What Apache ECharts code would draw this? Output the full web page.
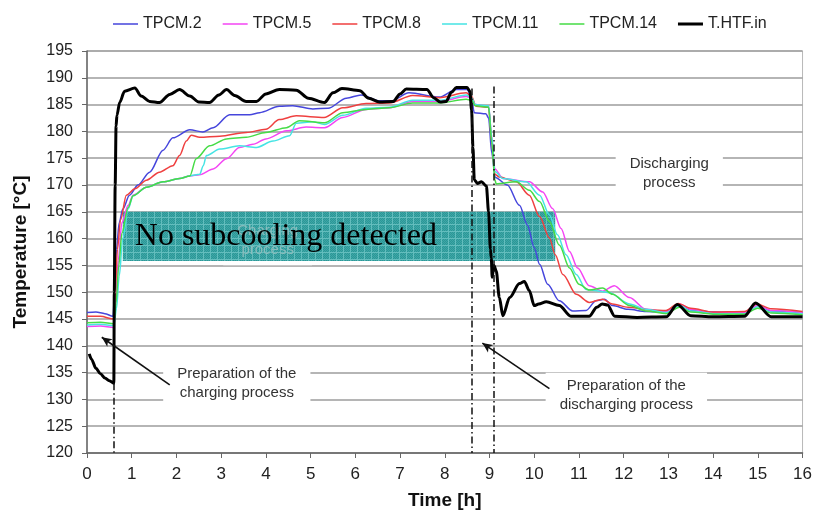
<!DOCTYPE html>
<html>
<head>
<meta charset="utf-8">
<script src="https://cdn.jsdelivr.net/npm/echarts@6/dist/echarts.min.js"></script>
<style>
  html, body { margin: 0; padding: 0; background: #fff; }
  #chart { width: 815px; height: 515px; }
</style>
</head>
<body>
<div id="chart"></div>
<script>
// 读图得到的数据 [时间 h, 温度 °C]
var tpcm2 = [[0,146.2],[0.2,146.3],[0.4,146],[0.58,145.5],[0.62,150],[0.66,158],[0.72,163],[0.8,165.5],[0.95,168.1],[1.14,170],[1.4,172.4],[1.7,176.5],[1.92,178.8],[2.3,180.3],[2.59,179.9],[2.82,180.7],[3.19,183.1],[3.64,183.1],[3.86,183.5],[4.3,184.7],[4.6,184.8],[5.05,184.2],[5.39,184.3],[5.8,186.2],[6.13,186.8],[6.54,185.7],[6.8,185.7],[7.2,187.2],[7.88,186.4],[8.25,187.8],[8.5,187.8],[8.59,186.6],[8.66,183.5],[8.92,183.3],[8.98,182.5],[9.05,176],[9.13,171.4],[9.4,170],[9.67,166.2],[9.85,162.5],[10,158.3],[10.12,155.2],[10.3,151.5],[10.56,148.4],[10.86,146.5],[11.16,146.6],[11.38,148.4],[11.57,148.7],[11.75,147.5],[12.1,146.8],[12.5,146.4],[12.95,146.3],[13.2,147.7],[13.5,146.6],[14,146.3],[14.7,146.2],[14.95,147.7],[15.3,146.5],[16,146.2]]
var tpcm5 = [[0,143.6],[0.3,143.7],[0.6,143.4],[0.64,148],[0.7,156],[0.78,163],[0.92,166.2],[1.03,168.1],[1.33,169.6],[1.7,170.6],[2.07,171.2],[2.3,171.7],[2.52,171.9],[2.82,173],[3.12,174.9],[3.41,177],[3.71,177.6],[4,178.6],[4.46,180.1],[4.9,180.8],[5.31,180.7],[5.72,182.6],[6.24,184.1],[6.76,184.4],[7.28,185.6],[7.88,185.6],[8.48,186.5],[8.6,186.2],[8.68,185],[8.98,184.7],[9.05,179],[9.12,173],[9.3,171.2],[9.89,170.6],[10.19,168.7],[10.41,165.6],[10.6,161.9],[10.79,157.6],[10.97,154.5],[11.23,151.2],[11.53,150.2],[11.79,151.2],[12.13,149],[12.5,146.8],[12.95,146.4],[13.25,147.8],[13.5,146.8],[14,146.2],[14.7,146.2],[15,147.5],[15.3,146.6],[16,146.2]]
var tpcm8 = [[0,145.5],[0.3,145.5],[0.6,145],[0.63,150],[0.68,158],[0.75,163.5],[0.88,168.1],[1.07,169.3],[1.33,170.9],[1.62,172.4],[1.92,173.6],[2.07,175.5],[2.22,178.2],[2.33,179.3],[2.52,178.9],[2.97,179.1],[3.56,179.8],[4,180.4],[4.3,182.2],[4.68,182.9],[5.3,182.6],[5.72,184.4],[6.24,185.2],[6.76,185.3],[7.28,186.7],[7.88,186.3],[8.48,187.2],[8.6,186.5],[8.7,184.7],[8.98,184.5],[9.05,178],[9.12,172],[9.22,171.5],[9.6,170.6],[9.89,168.1],[10.12,164.1],[10.34,160.1],[10.47,157],[10.64,153.3],[10.94,149.6],[11.23,148.1],[11.53,148.7],[11.75,147.8],[12.1,147.2],[12.6,146.7],[12.95,146.6],[13.22,147.9],[13.5,147],[14,146.3],[14.7,146.4],[14.98,147.8],[15.3,146.9],[16,146.4]]
var tpcm11 = [[0,143.9],[0.3,144],[0.6,143.8],[0.66,147],[0.72,153],[0.8,160],[0.92,165.5],[1.03,168],[1.33,169.6],[1.7,170.6],[2.07,171.2],[2.3,171.7],[2.52,172],[2.6,173.6],[2.67,175.5],[2.97,176.7],[3.41,177.3],[3.79,177],[4.16,178.2],[4.53,179.2],[4.68,181.5],[5.05,181.8],[5.31,181.3],[5.72,183],[6.24,184.3],[6.76,184.5],[7.28,185.8],[7.88,185.8],[8.48,186.8],[8.6,186.3],[8.68,185],[8.98,184.8],[9.05,179],[9.12,172.5],[9.3,171.2],[9.82,170.6],[10.12,168.1],[10.34,164.4],[10.52,160.7],[10.71,157],[10.94,153.3],[11.16,150.5],[11.46,150.2],[11.68,149.9],[12.13,147.8],[12.5,146.8],[12.95,146.2],[13.25,147.5],[13.5,146.5],[14,146],[14.7,146],[15,147.3],[15.3,146.3],[16,146]]
var tpcm14 = [[0,144.3],[0.3,144.4],[0.6,144.1],[0.65,148],[0.71,155],[0.78,161],[0.92,165.8],[1.03,168],[1.33,169.6],[1.7,170.6],[2.07,171.2],[2.3,171.7],[2.44,174.9],[2.74,177.3],[3.12,178.6],[3.56,178.9],[4,179.8],[4.46,180.7],[4.75,182],[5.31,181.6],[5.72,183.5],[6.24,184.1],[6.76,184.4],[7.28,185.3],[7.88,185.3],[8.48,186],[8.6,185.8],[8.68,184.8],[8.98,184.5],[9.05,178],[9.12,171],[9.15,170.2],[9.6,170.6],[9.89,169],[10.12,166.9],[10.34,163.2],[10.56,158.8],[10.79,154.5],[11,151.5],[11.23,150.4],[11.53,150.8],[11.75,149.6],[12.13,147.5],[12.5,146.5],[12.95,146],[13.25,147.2],[13.5,146.3],[14,145.9],[14.7,145.9],[15,147],[15.3,146.1],[16,145.8]]
var htfIn = [[0.05,138.5],[0.1,137.5],[0.2,135.8],[0.3,134.8],[0.4,134],[0.5,133.5],[0.6,133],[0.61,150],[0.63,170],[0.65,181],[0.67,183],[0.73,185.4],[0.84,187.5],[1.07,188.1],[1.21,186.6],[1.4,185.6],[1.62,185.4],[1.85,186.9],[2.07,187.8],[2.3,186.6],[2.5,185.5],[2.74,185.4],[2.95,186.8],[3.12,187.8],[3.3,186.7],[3.56,185.6],[3.79,185.6],[4,187],[4.3,187.8],[4.68,187.7],[4.95,186.2],[5.31,185.4],[5.5,187.2],[5.7,188],[6.1,187.6],[6.3,186.2],[6.54,185.5],[6.85,185.6],[7,187],[7.14,187.9],[7.6,187.8],[7.75,186.3],[7.9,185.5],[8.03,185.6],[8.15,187.3],[8.26,188.2],[8.5,188.2],[8.56,187.5],[8.6,184],[8.63,177],[8.66,171],[8.73,170.3],[8.82,170.6],[8.93,169.8],[8.98,165],[9.02,158],[9.04,156.4],[9.06,152.8],[9.1,155],[9.15,154],[9.22,149],[9.3,145.6],[9.45,149],[9.67,151.6],[9.78,152],[9.89,150.3],[10,147.5],[10.1,147.8],[10.27,148.2],[10.56,147.5],[10.82,145.5],[11.23,145.5],[11.4,147.2],[11.52,147.8],[11.64,147.6],[11.8,145.5],[12.3,145.3],[12.95,145.4],[13.2,147.7],[13.5,145.6],[14,145.4],[14.7,145.5],[14.95,148],[15.3,145.4],[16,145.4]]

// 过程分界（点划线）
var phaseLines = [[0.6, 133], [8.6, 188], [9.1, 188.4]]
// 箭头 [起点, 终点]
var arrows = [[[1.85, 132.7], [0.33, 141.6]], [[10.34, 132], [8.84, 140.5]]]
// 图中说明文字 [文字, 时间, 温度, 是否被阴影框遮住]
var notes = [
  ['Charging\nprocess', 4.04, 159.7, true],
  ['Discharging\nprocess', 13.02, 172.1, false],
  ['Preparation of the\ncharging process', 3.35, 132.9, false],
  ['Preparation of the\ndischarging process', 12.06, 130.7, false]
]
// 阴影框
var boxRange = [[0.8, 165], [10.47, 155.8]]
var boxText = 'No subcooling detected'

// 网格纹理
function makePattern () {
  var c = document.createElement('canvas')
  c.width = 7
  c.height = 7
  var ctx = c.getContext('2d')
  ctx.fillStyle = '#2c9696'
  ctx.fillRect(0, 0, 7, 7)
  for (var i = 0; i < 7; i++) {
    for (var j = 0; j < 7; j++) {
      if ((i + j) % 2 === 0) {
        ctx.fillStyle = '#3ea7a7'
        ctx.fillRect(i, j, 1, 1)
      }
    }
  }
  ctx.fillStyle = '#63bdbd'
  ctx.fillRect(0, 0, 7, 1)
  ctx.fillRect(0, 0, 1, 7)
  return c
}

var chart = echarts.init(document.getElementById('chart'))
var font = 'Liberation Sans, Arial, sans-serif'
var thinIcon = 'path://M0,0h0.01v0.01h-0.01z M0,6.3H25V7.7H0Z M0,13.99h0.01v0.01h-0.01z'
var thickIcon = 'path://M0,0h0.01v0.01h-0.01z M0,5.5H25V8.5H0Z M0,13.99h0.01v0.01h-0.01z'

function line (name, data, color, width) {
  return {
    name: name,
    type: 'line',
    data: data,
    symbol: 'none',
    smooth: 0.3,
    smoothMonotone: 'x',
    lineStyle: { color: color, width: width },
    itemStyle: { color: color }
  }
}

var series = [
  line('TPCM.2', tpcm2, '#4646dc', 1.5),
  line('TPCM.5', tpcm5, '#f446f4', 1.5),
  line('TPCM.8', tpcm8, '#ef4040', 1.5),
  line('TPCM.11', tpcm11, '#46e4e4', 1.5),
  line('TPCM.14', tpcm14, '#46dc46', 1.5),
  line('T.HTF.in', htfIn, '#000', 3)
]

// 阴影框放在第一条曲线上
series[0].markArea = {
  silent: true,
  z: 1.5,
  itemStyle: { color: { image: makePattern(), repeat: 'repeat' } },
  label: { show: false },
  data: [[{ coord: boxRange[0] }, { coord: boxRange[1] }]]
}

var mlData = []
phaseLines.forEach(function (p) {
  mlData.push([
    { coord: [p[0], p[1]], symbol: 'none' },
    { coord: [p[0], 120], symbol: 'none' }
  ])
})
arrows.forEach(function (a) {
  mlData.push([
    { coord: a[0], symbol: 'none', lineStyle: { type: 'solid', width: 1.6 } },
    { coord: a[1], symbol: 'arrow', symbolSize: [7, 10] }
  ])
})
series[5].markLine = {
  silent: true,
  animation: false,
  label: { show: false },
  lineStyle: { color: '#111', width: 1.5, type: [7, 3, 1.5, 3] },
  data: mlData
}

chart.setOption({
  animation: false,
  backgroundColor: '#fff',
  legend: {
    top: 11,
    left: 108,
    itemWidth: 25,
    itemHeight: 14,
    itemGap: 21,
    textStyle: { fontFamily: font, fontSize: 16, color: '#222' },
    data: series.map(function (s, i) {
      return { name: s.name, icon: i === 5 ? thickIcon : thinIcon }
    })
  },
  grid: { left: 87, right: 12, top: 51, bottom: 58, show: true, borderColor: '#b8b8b8', borderWidth: 1 },
  xAxis: {
    type: 'value',
    min: 0,
    max: 16,
    interval: 1,
    name: 'Time [h]',
    nameLocation: 'middle',
    nameGap: 38,
    nameTextStyle: { fontFamily: font, fontSize: 19, fontWeight: 'bold', color: '#111' },
    axisLine: { lineStyle: { color: '#666', width: 1.5 } },
    axisTick: { length: 5, lineStyle: { color: '#666' } },
    axisLabel: { fontFamily: font, fontSize: 17, color: '#222', margin: 13 },
    splitLine: { show: false }
  },
  yAxis: {
    type: 'value',
    min: 120,
    max: 195,
    interval: 5,
    name: 'Temperature [°C]',
    nameLocation: 'middle',
    nameGap: 57,
    nameTextStyle: { fontFamily: font, fontSize: 19, fontWeight: 'bold', color: '#111' },
    axisLine: { show: true, lineStyle: { color: '#666', width: 1.5 } },
    axisTick: { show: true, length: 5, lineStyle: { color: '#666' } },
    axisLabel: { fontFamily: font, fontSize: 16, color: '#222', margin: 14 },
    splitLine: { lineStyle: { color: '#9c9c9c', width: 1.5 } }
  },
  series: series
})

// 说明文字（白底盖住网格线）；被框遮住的那段在框上淡淡露出
var graphics = []
notes.forEach(function (n) {
  var p = chart.convertToPixel({ gridIndex: 0 }, [n[1], n[2]])
  var base = {
    text: n[0],
    fontFamily: font,
    fontSize: 15,
    lineHeight: 19,
    align: 'center',
    verticalAlign: 'middle'
  }
  graphics.push({
    type: 'text',
    x: p[0],
    y: p[1],
    z: 1,
    silent: true,
    style: Object.assign({}, base, {
      fill: n[3] ? 'rgba(0,0,0,0)' : '#333',
      backgroundColor: '#fff',
      padding: n[3] ? [4, 14, 8, 14] : [4, 14]
    })
  })
  if (n[3]) {
    graphics.push({
      type: 'text',
      x: p[0],
      y: p[1],
      z: 1.6,
      silent: true,
      style: Object.assign({}, base, { fill: '#8abdbd' })
    })
  }
})

// 框上的大字
var b0 = chart.convertToPixel({ gridIndex: 0 }, boxRange[0])
var b1 = chart.convertToPixel({ gridIndex: 0 }, boxRange[1])
graphics.push({
  type: 'text',
  x: b0[0] + 12,
  y: (b0[1] + b1[1]) / 2,
  z: 1.8,
  silent: true,
  style: {
    text: boxText,
    fontFamily: 'Liberation Serif, Times New Roman, serif',
    fontSize: 32,
    fill: '#000',
    align: 'left',
    verticalAlign: 'middle'
  }
})
chart.setOption({ graphic: graphics })
</script>
</body>
</html>
